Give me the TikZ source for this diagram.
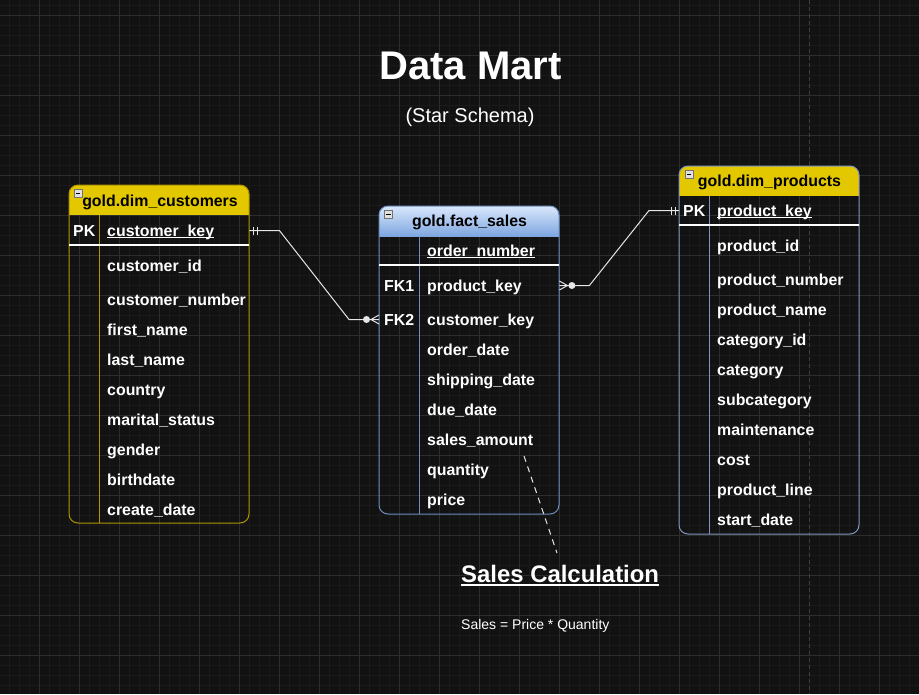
\documentclass[tikz,border=0pt]{standalone}
\usepackage{fontspec}
\setmainfont{Liberation Sans}

\definecolor{bgdark}{HTML}{121212}
\definecolor{gridminor}{HTML}{1A1A1A}
\definecolor{gridmajor}{HTML}{2D2D2D}
\definecolor{pageline}{HTML}{3E3E3E}
\definecolor{hdryellow}{HTML}{E3C800}
\definecolor{custline}{HTML}{B09500}
\definecolor{factline}{HTML}{6C8EBF}
\definecolor{prodline}{HTML}{8195BE}
\definecolor{facttop}{HTML}{DAE8FC}
\definecolor{factbot}{HTML}{7EA6E0}
\definecolor{linkgray}{HTML}{E6E6E6}

\newsavebox\ulbox
\newcommand\ulined[3]{\sbox\ulbox{#3}\rlap{\rule[-#1]{\wd\ulbox}{#2}}\usebox\ulbox}

\begin{document}
\begin{tikzpicture}[x=1pt,y=-1pt]
            \tikzstyle{rowtext}=[anchor=west,text=white,font=\bfseries\fontsize{15.9}{19}\selectfont,align=left,inner xsep=8pt,inner ysep=0pt,text height=12pt,text depth=0.5pt]
            \tikzstyle{keytext}=[rowtext,inner xsep=4pt,text width=22pt]
            \tikzstyle{hdrtext}=[text=black,font=\bfseries\fontsize{15.9}{19}\selectfont,inner sep=0pt,text height=12pt,text depth=0.5pt]
            \tikzstyle{minusbox}=[draw=black!55,fill=black!12,minimum size=8pt,inner sep=0pt]
            \tikzstyle{relline}=[draw=linkgray,line width=1pt]
            \useasboundingbox (0,0) rectangle (919,694);
            \fill[bgdark] (0,0) rectangle (919,694);
            \foreach \i in {0,...,91} \draw[gridminor] ({\i*10+9.5},0) -- ++(0,694);
            \foreach \i in {0,...,69} \draw[gridminor] (0,{\i*10+5}) -- ++(919,0);
            \foreach \i in {0,...,22} \draw[gridmajor] ({\i*40+39.5},0) -- ++(0,694);
            \foreach \i in {0,...,17} \draw[gridmajor] (0,{\i*40+15}) -- ++(919,0);
            \draw[pageline,dash pattern=on 4pt off 3pt] (809.5,0) -- (809.5,694);
            \node[anchor=base,text=white,font=\bfseries\fontsize{40}{48}\selectfont,inner sep=0pt] (mart) at (470.5,79.5) {Data Mart};
            \node[anchor=base,text=white,font=\fontsize{20}{24}\selectfont,inner sep=0pt] (schema) at (470,122) {(Star Schema)};
            % gold.dim_customers
            \begin{scope}
                \clip[rounded corners=9pt] (69,185) rectangle (249,523);
                \fill[hdryellow] (69,185) rectangle (249,215);
            \end{scope}
            \draw[custline,line width=1pt,rounded corners=9pt] (69,185) rectangle (249,523);
            \draw[custline] (99,215) -- (99,523);
            \draw[white,line width=1.2pt] (69,245) -- (249,245);
            \node[minusbox] (c-minus) at (78,193.5) {};
            \draw[black,line width=1pt] ([xshift=2pt]c-minus.west) -- ([xshift=-2pt]c-minus.east);
            \node[hdrtext] (customers) at (160,200.5) {gold.dim\_customers};
            \node[keytext] (c-pk) at (69,230.5) {PK};
            \node[rowtext,text width=134pt] (c-key) at (99,230.5) {\ulined{2pt}{1.1pt}{customer\_key}};
            \foreach \n/\y/\t in {c-id/265.5/customer\_id, c-num/299.5/customer\_number, c-first/329.5/first\_name,
                c-last/359.5/last\_name, c-country/389.5/country, c-marital/419.5/marital\_status,
                c-gender/449.5/gender, c-birth/479.5/birthdate, c-create/509.5/create\_date}
                \node[rowtext,text width=134pt] (\n) at (99,\y) {\t};
            % gold.fact_sales
            \begin{scope}
                \clip[rounded corners=9pt] (379,206) rectangle (559,514);
                \shade[top color=facttop,bottom color=factbot] (379,206) rectangle (559,236);
            \end{scope}
            \draw[factline,line width=1pt,rounded corners=9pt] (379,206) rectangle (559,514);
            \draw[factline] (419,236) -- (419,514);
            \draw[white,line width=1.2pt] (379,265) -- (559,265);
            \node[minusbox] (f-minus) at (388.5,214) {};
            \draw[black,line width=1pt] ([xshift=2pt]f-minus.west) -- ([xshift=-2pt]f-minus.east);
            \node[hdrtext] (sales) at (469.5,220.5) {gold.fact\_sales};
            \node[rowtext,text width=124pt] (f-order) at (419,250.5) {\ulined{2pt}{1.1pt}{order\_number}};
            \node[keytext,inner xsep=5pt,text width=30pt] (f-fk1) at (379,285.5) {FK1};
            \node[keytext,inner xsep=5pt,text width=30pt] (f-fk2) at (379,319.5) {FK2};
            \foreach \n/\y/\t in {f-prod/285.5/product\_key, f-cust/319.5/customer\_key, f-odate/349.5/order\_date,
                f-ship/379.5/shipping\_date, f-due/409.5/due\_date, f-amount/439.5/sales\_amount,
                f-qty/469.5/quantity, f-price/499.5/price}
                \node[rowtext,text width=124pt] (\n) at (419,\y) {\t};
            % gold.dim_products
            \begin{scope}
                \clip[rounded corners=9pt] (679,166) rectangle (859,534);
                \fill[hdryellow] (679,166) rectangle (859,195.5);
            \end{scope}
            \draw[prodline,line width=1pt,rounded corners=9pt] (679,166) rectangle (859,534);
            \draw[prodline] (709,195.5) -- (709,534);
            \draw[white,line width=1.2pt] (679,225) -- (859,225);
            \node[minusbox] (p-minus) at (689,174.5) {};
            \draw[black,line width=1pt] ([xshift=2pt]p-minus.west) -- ([xshift=-2pt]p-minus.east);
            \node[hdrtext] (products) at (769.5,180.5) {gold.dim\_products};
            \node[keytext] (p-pk) at (679,210.5) {PK};
            \node[rowtext,text width=134pt] (p-key) at (709,210.5) {\ulined{2pt}{1.1pt}{product\_key}};
            \foreach \n/\y/\t in {p-id/245.5/product\_id, p-num/279.5/product\_number, p-name/309.5/product\_name,
                p-catid/339.5/category\_id, p-cat/369.5/category, p-subcat/399.5/subcategory,
                p-maint/429.5/maintenance, p-cost/459.5/cost, p-line/489.5/product\_line, p-start/519.5/start\_date}
                \node[rowtext,text width=134pt] (\n) at (709,\y) {\t};
            % relations
            \draw[relline] (c-key.east) -- ++(30,0) -- ([xshift=-30pt]f-fk2.west) -- (f-fk2.west);
            \draw[relline] ([xshift=4pt,yshift=4pt]c-key.east) -- ([xshift=4pt,yshift=-4pt]c-key.east);
            \draw[relline] ([xshift=8pt,yshift=4pt]c-key.east) -- ([xshift=8pt,yshift=-4pt]c-key.east);
            \fill[linkgray] ([xshift=-12.5pt]f-fk2.west) circle (3.5pt);
            \draw[relline] ([yshift=4.5pt]f-fk2.west) -- ([xshift=-8pt]f-fk2.west) -- ([yshift=-4.5pt]f-fk2.west);
            \draw[relline] (f-prod.east) -- ++(30,0) -- ([xshift=-30pt]p-pk.west) -- (p-pk.west);
            \fill[linkgray] ([xshift=12.5pt]f-prod.east) circle (3.5pt);
            \draw[relline] ([yshift=4.5pt]f-prod.east) -- ([xshift=8pt]f-prod.east) -- ([yshift=-4.5pt]f-prod.east);
            \draw[relline] ([xshift=-8pt,yshift=4pt]p-pk.west) -- ([xshift=-8pt,yshift=-4pt]p-pk.west);
            \draw[relline] ([xshift=-4pt,yshift=4pt]p-pk.west) -- ([xshift=-4pt,yshift=-4pt]p-pk.west);
            % sales calculation note
            \coordinate (note-a) at (524,456);
            \coordinate (note-b) at (557,553);
            \draw[relline,dash pattern=on 6pt off 5pt] (note-a) -- (note-b);
            \node[anchor=base west,text=white,font=\bfseries\fontsize{23.9}{28}\selectfont,inner sep=0pt] (calc-title) at (461,582.5) {\ulined{3.2pt}{1.7pt}{Sales Calculation}};
            \node[anchor=base west,text=white,font=\fontsize{14}{17}\selectfont,inner sep=0pt] (calc-rule) at (461,629) {Sales = Price * Quantity};
        \end{tikzpicture}
\end{document}
